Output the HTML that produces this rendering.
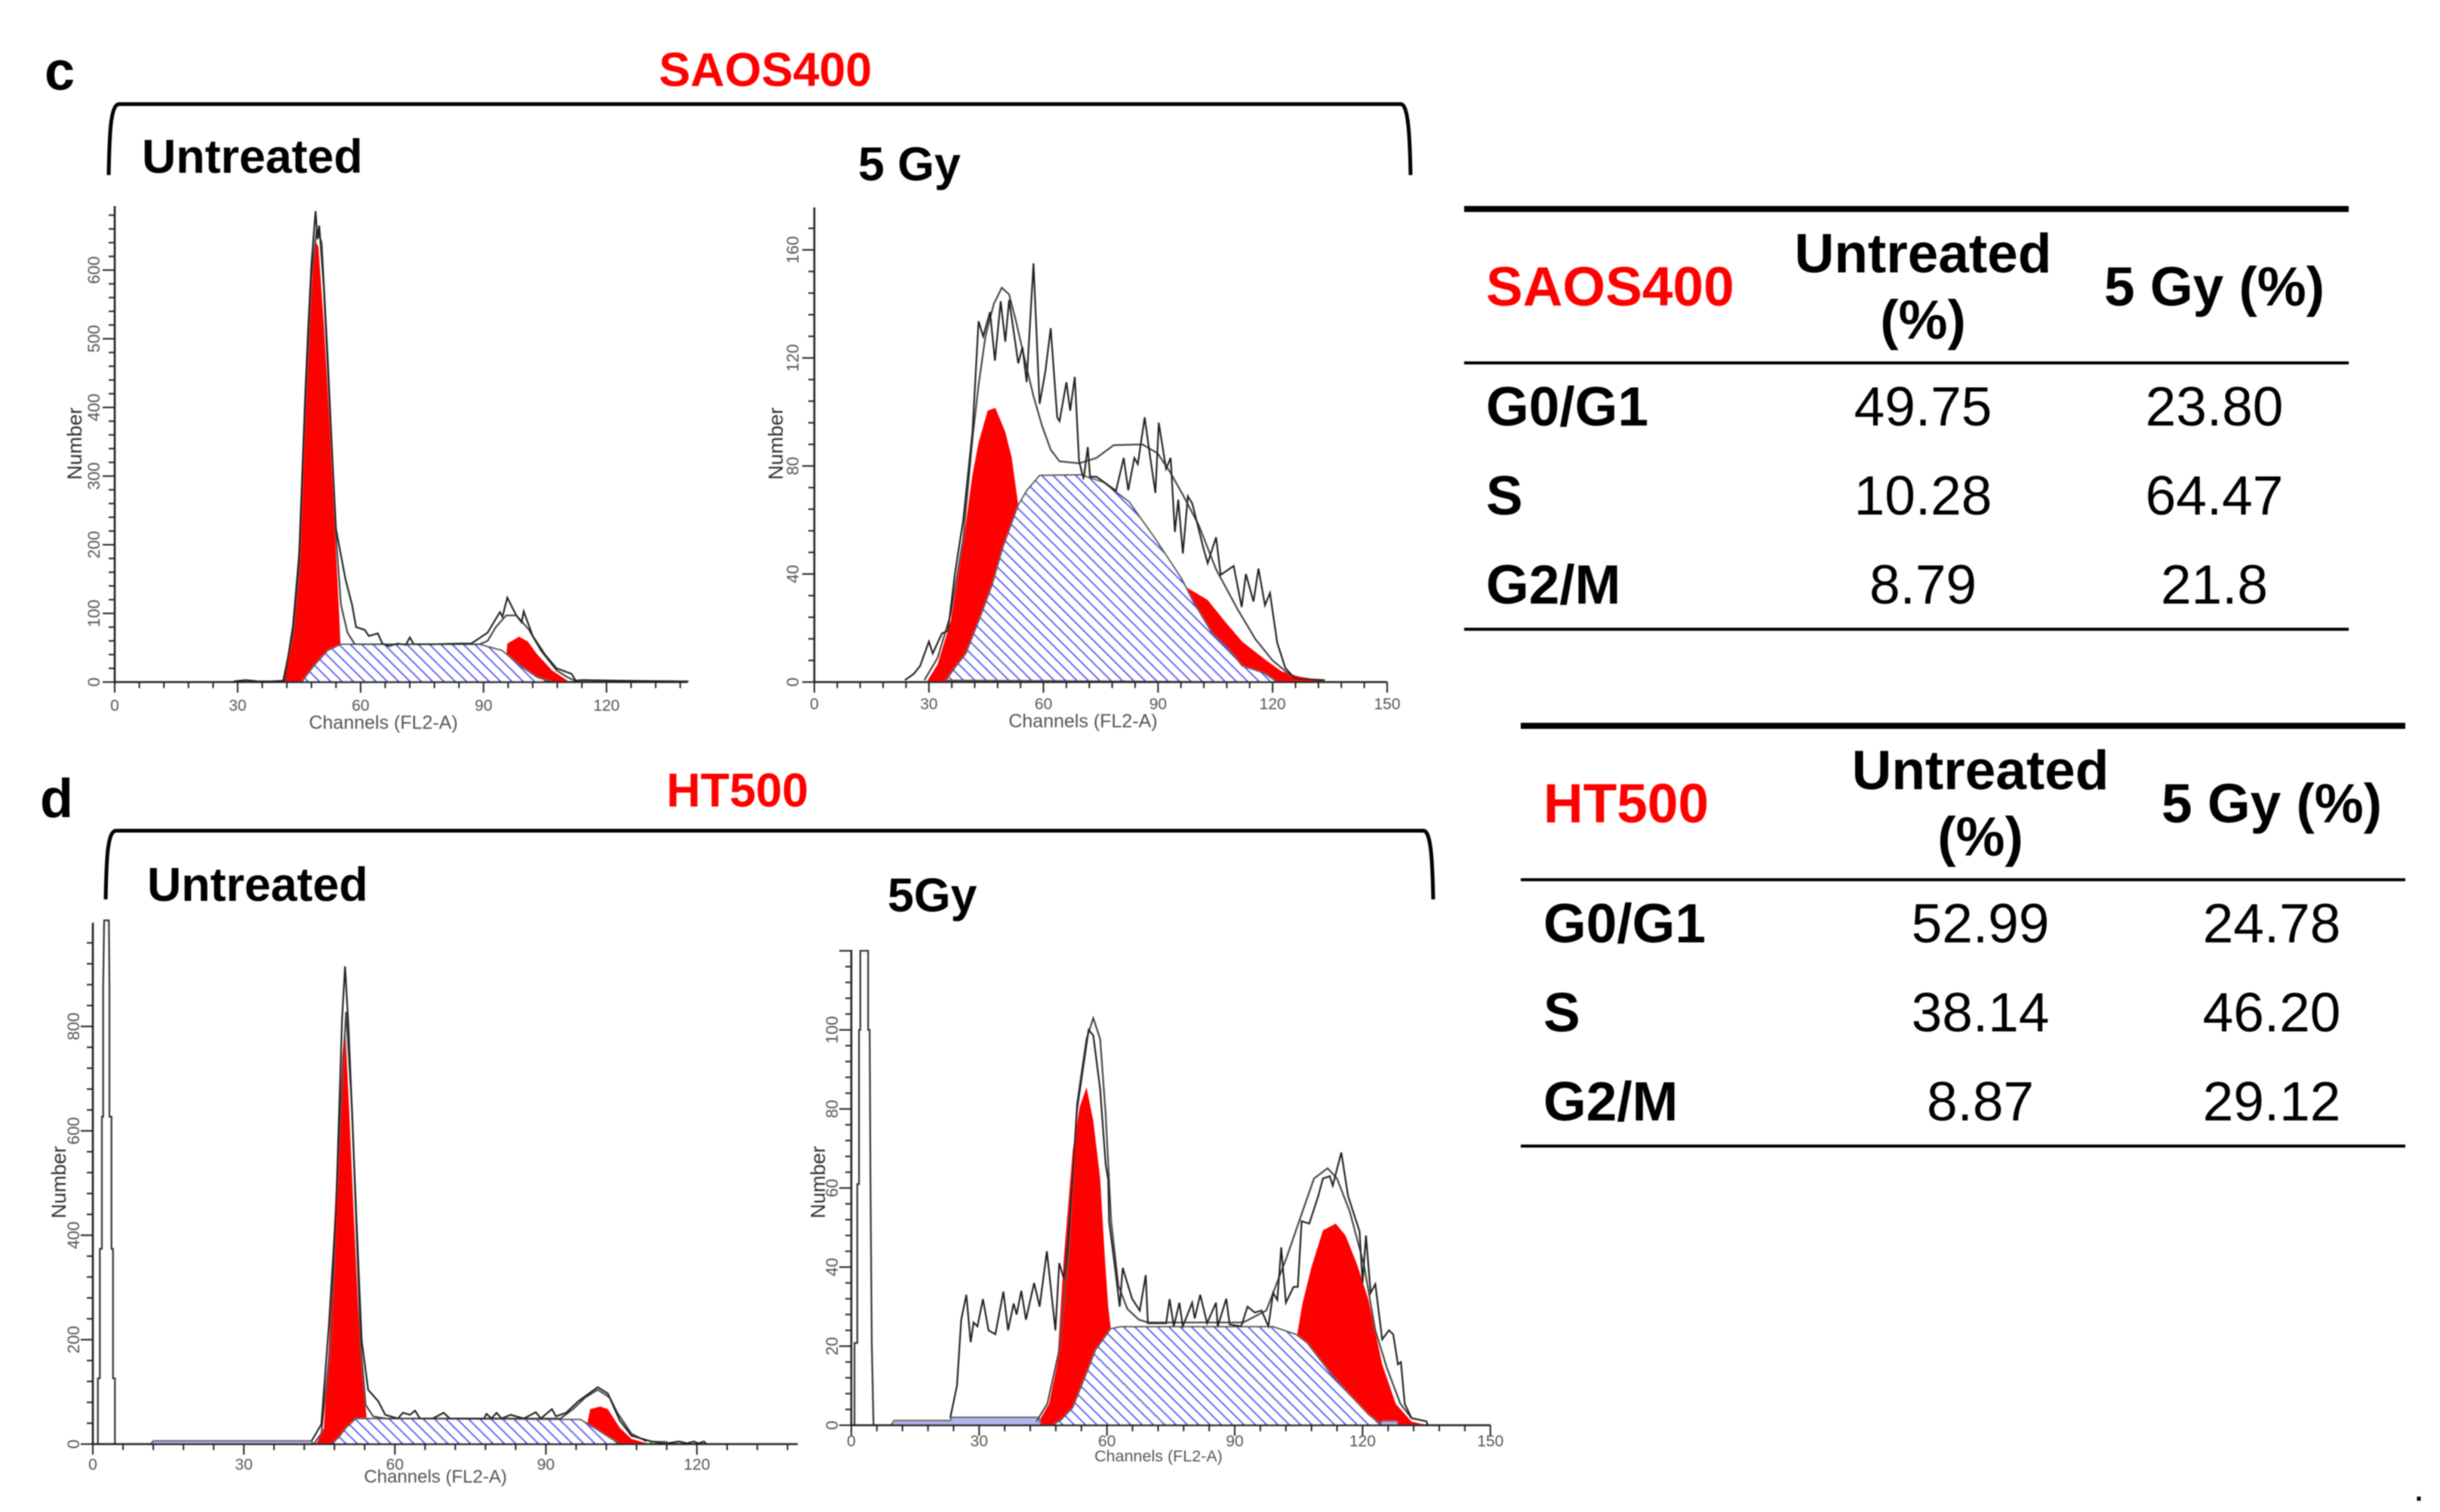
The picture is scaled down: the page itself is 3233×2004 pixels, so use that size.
<!DOCTYPE html>
<html lang="en">
<head>
<meta charset="utf-8">
<title>Cell cycle histograms: SAOS400 and HT500</title>
<style>
html,body{margin:0;padding:0;background:#fff;width:3233px;height:2004px;overflow:hidden}
svg{display:block;position:absolute;left:0;top:0}
text{font-family:"Liberation Sans",sans-serif}
.b{font-weight:700}
.t{font-size:73px;fill:#000}
.l{font-size:62.7px;font-weight:700;fill:#000}
.r{fill:#f00}
</style>
</head>
<body>
<svg id="fig" width="3233" height="2004" viewBox="0 0 3233 2004" xmlns="http://www.w3.org/2000/svg">
<defs>
<pattern id="hatch" patternUnits="userSpaceOnUse" width="15" height="15">
<path d="M-3.75,11.25 L3.75,18.75 M-3.75,-3.75 L18.75,18.75 M11.25,-3.75 L18.75,3.75" stroke="#6464f4" stroke-width="2.3" fill="none"/>
</pattern>
<filter id="soft" x="0" y="0" width="1" height="1"><feGaussianBlur stdDeviation="0.9"/></filter>
<filter id="softText" x="-5%" y="-5%" width="110%" height="110%"><feGaussianBlur stdDeviation="0.8"/></filter>
</defs>

<g id="plots" filter="url(#soft)"></g>

<g filter="url(#softText)">
<text x="59" y="119" class="b" font-size="72">c</text>
<text x="873" y="114" class="l r">SAOS400</text>
<path d="M144,232 C145,180 146,138 158,138 L1856,138 C1866,138 1868,180 1869,232" fill="none" stroke="#000" stroke-width="5"/>
<text x="188" y="229" class="l">Untreated</text>
<text x="1137" y="239" class="l">5 Gy</text>

<text x="53" y="1083" class="b" font-size="72">d</text>
<text x="883" y="1069" class="l r">HT500</text>
<path d="M140,1192 C141,1140 142,1101 154,1101 L1886,1101 C1896,1101 1898,1140 1899,1192" fill="none" stroke="#000" stroke-width="5"/>
<text x="195" y="1194" class="l">Untreated</text>
<text x="1176" y="1208" class="l">5Gy</text>

<g>
<rect x="1940" y="273" width="1172" height="8" fill="#000"/>
<rect x="1940" y="479" width="1172" height="4" fill="#000"/>
<rect x="1940" y="832" width="1172" height="4" fill="#000"/>
<text x="1969" y="405" class="t b r">SAOS400</text>
<text x="2548" y="361" class="t b" text-anchor="middle">Untreated</text>
<text x="2548" y="449" class="t b" text-anchor="middle">(%)</text>
<text x="2934" y="405" class="t b" text-anchor="middle">5 Gy (%)</text>
<text x="1969" y="564" class="t b">G0/G1</text>
<text x="2548" y="564" class="t" text-anchor="middle">49.75</text>
<text x="2934" y="564" class="t" text-anchor="middle">23.80</text>
<text x="1969" y="682" class="t b">S</text>
<text x="2548" y="682" class="t" text-anchor="middle">10.28</text>
<text x="2934" y="682" class="t" text-anchor="middle">64.47</text>
<text x="1969" y="800" class="t b">G2/M</text>
<text x="2548" y="800" class="t" text-anchor="middle">8.79</text>
<text x="2934" y="800" class="t" text-anchor="middle">21.8</text>
</g>

<g>
<rect x="2015" y="958" width="1172" height="8" fill="#000"/>
<rect x="2015" y="1164" width="1172" height="4" fill="#000"/>
<rect x="2015" y="1517" width="1172" height="4" fill="#000"/>
<text x="2045" y="1090" class="t b r">HT500</text>
<text x="2624" y="1046" class="t b" text-anchor="middle">Untreated</text>
<text x="2624" y="1134" class="t b" text-anchor="middle">(%)</text>
<text x="3010" y="1090" class="t b" text-anchor="middle">5 Gy (%)</text>
<text x="2045" y="1249" class="t b">G0/G1</text>
<text x="2624" y="1249" class="t" text-anchor="middle">52.99</text>
<text x="3010" y="1249" class="t" text-anchor="middle">24.78</text>
<text x="2045" y="1367" class="t b">S</text>
<text x="2624" y="1367" class="t" text-anchor="middle">38.14</text>
<text x="3010" y="1367" class="t" text-anchor="middle">46.20</text>
<text x="2045" y="1485" class="t b">G2/M</text>
<text x="2624" y="1485" class="t" text-anchor="middle">8.87</text>
<text x="3010" y="1485" class="t" text-anchor="middle">29.12</text>
</g>
<text x="3200" y="1989" class="b" font-size="36">.</text>
</g>
</svg>

<script>
// ---- Panel A: SAOS400 untreated ----
const aXTicks=[0,30,60,90,120];
const aYTicks=[0,100,200,300,400,500,600];
const aRawCh=[29,32,35,38,41.4,43.5,45,46.5,47.2,48,49,49.5,49.9,51,52.5,54,56.3,57.9,58.9,61,62,64.2,65.3,67,69,71,72,73,78,84,87,91,94,94.6,95.8,98,99.3,99.8,102,105,107.8,111.5,112.5,114,124,140];
const aRawN=[1,3,1,1,2,82,186,420,514,608,686,645,665,577,395,223,150,113,80,76,67,71,56,52,56,54,65,55,55,56,56,72,102,95,123,97,87,103,67,40,20,12,2,3,2,1];
const aFitCh=[41,43.5,45,46.5,48,49.3,50.5,52,54,55.2,56.8,58.6,89,91,93,95.5,98,101,104,107.8,110.5,113];
const aFitN=[0,70,170,400,590,660,640,470,212,113,72,55,55,60,80,97,97,77,46,17,7,0];
const aG1Ch=[41.4,44,45.6,46.7,47.8,48.8,49.7,51,52.5,53.6,54.7,55.5];
const aG1N=[0,108,265,420,550,645,634,525,369,238,108,0];
const aSCh=[45.6,48.8,52,55.2,89,94.5,98.7,103,106.7];
const aSN=[0,25,46,55,55,46,25,7,0];
const aG2Ch=[95,95.8,98.7,100.8,103,106.7,111];
const aG2N=[0,56,66,59,41,17,0];

// ---- Panel B: SAOS400 5 Gy ----
const bXTicks=[0,30,60,90,120,150];
const bYTicks=[0,40,80,120,160];
const bRawCh=[23.7,26,27.7,30,31,33.4,35,36.8,39,41.4,43,44.2,46,47.3,48.8,50,51,53.4,54.5,55.6,57.4,59,60.5,61.9,63.6,64.2,66,67,68.2,69.3,70.5,71.6,72.2,73.9,79,81,82.2,83.8,84.7,86.5,87.6,89.3,90.2,92.1,93.3,94.4,95.3,96.5,97.8,99,101.8,103,105.2,106.4,109.8,111.9,113,115,116.3,118,119.3,121.2,123.3,125.8,133.7];
const bRawN=[0.7,3,6,15,10.6,18,19,40,60,92.6,133.6,128,137,119,141,126,141.5,118,124,111,155,103,115,131,98,96.6,111,100.5,113,82,75,87,76,76,70.8,83,71,83,80.7,98,86.6,70,96,79,83,55.6,67.5,47.6,68.8,66,50,44,53.6,39.7,43,27.8,40,29.8,42,28.4,33,14.6,5.3,1.3,0.7];
const bFitCh=[28.8,32.3,35.7,39,41.4,43,44.8,47,49.1,51,52.8,55,57.4,59.6,61.9,64.2,69.3,73.9,78.4,85.9,89.9,93.3,96.7,100.7,105.2,111,115.5,120,124.6,127];
const bFitN=[0.7,9,25,53,90,110,128,140,146,143.5,133.6,120,105.8,95,86,81.7,81,83,87.7,88,84.7,77.4,68.8,58,41.7,26.5,15.9,8,2.6,0.7];
const bG1Ch=[29.4,32.3,35.7,39,41.4,43,45.4,47.4,50,51.7,53.4,55];
const bG1N=[0,6.6,22.5,51.6,76.7,88.6,100.5,101.5,92.6,83,65.5,0];
const bSCh=[34.5,36.8,39.7,43.7,46.5,49.4,53.4,55.6,59,69.9,75.6,82.4,89.3,96.1,99.5,104,108.7,112,117.8,121.2];
const bSN=[0.7,5.3,10.6,25,35.7,50,65.5,70.8,76.5,76.7,74,66.8,53,38.4,29,18.5,11.9,6,3.3,0];
const bG2Ch=[96.7,96.7,103,107.5,112,117.8,122.3,127,132.6,133.2];
const bG2N=[0,35.7,30.4,22.5,15,8.6,4,2,0.7,0];

// ---- Panel C: HT500 untreated ----
const cXTicks=[0,30,60,90,120];
const cYTicks=[0,200,400,600,800];
const cDebrisCh=[1,1,1.4,1.4,1.8,1.8,2.06,2.06,2.25,3.2,3.3,3.3,3.7,3.7,4,4,4.4,4.4];
const cDebrisN=[0,126,126,374,374,627,627,877,1003,1003,877,627,627,374,374,126,126,0];
const cBandCh=[11.5,12,43.4,43.8];
const cBandN=[0,6,6,0];
const cTailCh=[110.6,111,114,114.5];
const cTailN=[0,5,5,0];
const cRawCh=[43.4,45.4,46.9,48.3,49.5,50.1,50.8,52.3,53.4,54.7,56.7,58.1,60.6,61.6,63,64,65,67.5,69.7,70.9,77.7,78.2,79.2,80.2,81.2,83,85.6,88,89,91.2,92,94,96.4,100.3,102.3,104.7,107,111,114,116.5,118,119.4,120.3,121.4,121.9];
const cRawN=[5,38,228,447,813,915,798,447,199,104,82,56,49,60,56,64,49,49,60,49,49,58,49,60,49,56,49,61,49,67,53,60,82,109,97,45,16,5,1.5,5,1.5,5,1.5,5,0];
const cFitCh=[44,45.4,47.3,48.8,50.3,51.5,53.2,54.2,55.7,58.1,92.9,95.4,97.8,100.3,102.7,104.2,107,110];
const cFitN=[1.5,20,200,560,828,640,192,75,53,49,49,67,89,104,89,60,20,5];
const cG1Ch=[44.4,45.9,46.9,47.8,48.8,49.5,50.1,50.8,51.8,52.7,53.4,54.4,54.8];
const cG1N=[0,31,192,396,594,740,806,667,447,265,155,49,0];
const cSCh=[47.4,48.8,50.3,52.3,96.9,100.3,102.7,104.7];
const cSN=[0,12,31,49,47,27,12,0];
const cG2Ch=[97.4,98.8,100.8,102.3,104.7,107,110.6];
const cG2N=[0,67,72,67,31,10,0];

// ---- Panel D: HT500 5 Gy ----
const dXTicks=[0,30,60,90,120,150];
const dYTicks=[0,20,40,60,80,100];
const dDebrisCh=[0.75,0.75,1.4,1.4,1.8,1.8,2.1,2.1,3.95,3.95,4.3,4.5,4.5,4.8,4.8,5.2];
const dDebrisN=[0,20.8,20.8,61,61,100,100,120,120,100,100,61,61,20.8,20.8,0];
const dBandCh=[9.3,10,23.2,23.7,44,44.5];
const dBandN=[0,1.2,1.2,2,2,0];
const dTailCh=[124,124.6,128,128.5];
const dTailN=[0,1,1,0];
const dRawCh=[23.2,24.8,25.8,27,28,28.7,29.6,30.9,32.2,33.8,35.7,36.8,38.1,38.8,39.9,41,42.9,44.2,45.9,47.9,48.8,49.9,50.9,53,55.7,56.8,58.4,59.7,60.3,60.5,62.1,63,63.7,65.9,67.7,69.1,69.6,73.9,74.7,75.7,77,77.8,80,80.6,81.9,83.5,85.6,86,88,88.8,91.5,93,94.7,96.3,97.9,99,100,100.9,102,103.8,104.8,105.7,107.5,109.6,110.7,112.3,113,115,116.6,119.3,120,120.8,121.9,123,124.6,126.2,127.2,128.3,129,129.9,131.5,135,135.3];
const dRawN=[1.8,10,26.7,33,21,26,25,31.9,24,23,33.8,24,30.8,28,34,26.7,36,30,44,24,41,37,47,80,100,98.6,85,66,62,51.6,38,30,39.8,32,29,38,25.8,25.8,31.9,25,31,25,31,27,33,25.8,31,25,32,25.5,25,30,28.5,29,25,33.5,31.7,45,31,35,35,51.6,51,58,62.4,63,60.6,69,58,49,36,48,33.5,35.7,21.7,24,23,15.4,16,5.4,1.8,1,0];
const dFitCh=[43.4,46,48.8,50.9,53,55.2,56.8,58.4,59.7,61,62.7,64.8,67.5,69.6,92,97.4,99,102.2,105.4,108.6,111.8,114,117,120.3,123,125.7,128.9,131.5];
const dFitN=[0.9,5.4,19,42.5,81.4,97.7,103,97.7,78.7,51.6,35.3,29.4,26.7,26,26,29,33.5,42.5,52.5,62.4,65,62.4,54,40.7,24,14.5,5.4,1.8];
const dG1Ch=[43.5,46.4,48.3,49.9,52,53.6,55.2,56.8,58.4,59.5,60.3,60.9,61.2];
const dG1N=[0,5.4,15.4,42.5,69.7,80.5,85.5,77,62.4,42.5,29.9,24.4,0];
const dSCh=[47.2,49.3,52,54.7,57.3,60.9,63.2,99,104.3,107,112.8,117,121.4,124.6];
const dSN=[0,1.4,4.5,11.8,19,24.4,24.9,24.9,23,20.8,12.7,7.7,2.7,0];
const dG2Ch=[104.2,104.6,105.9,108,110.7,113.7,116,118.7,121.4,124.6,127.8,131.5,135.3];
const dG2N=[0,22.6,30.8,40,49.3,51,48,40.7,31.7,15.4,5.4,0.9,0];

const NS='http://www.w3.org/2000/svg';
const plots=document.getElementById('plots');

function make(parent,tag,attrs,content){
  const el=document.createElementNS(NS,tag);
  for(const k in attrs){el.setAttribute(k,attrs[k]);}
  if(content!==undefined){el.textContent=content;}
  parent.appendChild(el);
  return el;
}
function pts(chs,ns,x,y){
  return chs.map(function(c,i){return x(c).toFixed(1)+','+y(ns[i]).toFixed(1);}).join(' ');
}

function drawPanel(p){
  const x=function(c){return p.x0+c*p.pxCh;};
  const y=function(n){return p.y0-n*p.pxN;};
  const g=make(plots,'g',{});
  
  

  // red G1 and G2 peaks (closed to baseline; S-phase mask sits on top)
  const g1=make(g,'polygon',{points:pts(p.g1Ch,p.g1N,x,y),fill:'#f00'});
  
  
  const g2=make(g,'polygon',{points:pts(p.g2Ch,p.g2N,x,y),fill:'#f00'});
  
  

  // hatched S-phase area
  const mask=make(g,'polygon',{points:pts(p.sCh,p.sN,x,y),fill:'#fff'});
  
  
  const s=make(g,'polygon',{points:pts(p.sCh,p.sN,x,y),fill:'url(#hatch)',stroke:'#555','stroke-width':2});
  
  

  if(p.bandCh){
    const band=make(g,'polygon',{points:pts(p.bandCh,p.bandN,x,y),fill:'#b4b4ee',stroke:'#666','stroke-width':2});
    
    
  }
  if(p.tailCh){
    const tail=make(g,'polygon',{points:pts(p.tailCh,p.tailN,x,y),fill:p.tailFill,stroke:'#666','stroke-width':1.5});
    
    
  }
  if(p.debrisCh){
    const debris=make(g,'polyline',{points:pts(p.debrisCh,p.debrisN,x,y),fill:'none',stroke:'#333','stroke-width':2.2});
    
    
  }

  const fit=make(g,'polyline',{points:pts(p.fitCh,p.fitN,x,y),fill:'none',stroke:'#444','stroke-width':2.2});
  
  
  const raw=make(g,'polyline',{points:pts(p.rawCh,p.rawN,x,y),fill:'none',stroke:'#222','stroke-width':2.2});
  
  

  // axes
  const xAxis=make(g,'line',{x1:p.x0,y1:p.y0,x2:p.right,y2:p.y0,stroke:'#222','stroke-width':2.6});
  
  
  const yAxis=make(g,'line',{x1:p.x0,y1:p.y0,x2:p.x0,y2:p.top,stroke:'#222','stroke-width':2.6});
  
  

  const maxCh=(p.right-p.x0)/p.pxCh;
  for(let c=0;c<=maxCh+0.01;c+=6){
    const major=p.xTicks.indexOf(c)>=0;
    const t=make(g,'line',{x1:x(c),y1:p.y0,x2:x(c),y2:p.y0+(major?14:8),stroke:'#222','stroke-width':2});
    
    
  }
  p.xTicks.forEach(function(c){
    const lab=make(g,'text',{x:x(c),y:p.xLabelY,'text-anchor':'middle','font-size':21,fill:'#555'},String(c));
    
    
  });
  const maxN=(p.y0-p.top)/p.pxN;
  const minorStep=p.yTicks[1]/5;
  for(let i=0;i*minorStep<=maxN;i++){
    const major=i%5===0;
    const t=make(g,'line',{x1:p.x0,y1:y(i*minorStep),x2:p.x0-(major?16:8),y2:y(i*minorStep),stroke:'#222','stroke-width':2});
    
    
  }
  p.yTicks.forEach(function(n){
    const lab=make(g,'text',{x:p.yLabelX,y:y(n),'text-anchor':'middle','font-size':22,fill:'#555',transform:'rotate(-90 '+p.yLabelX+' '+y(n)+')'},String(n));
    
    
  });
  const xt=make(g,'text',{x:p.xTitleX,y:p.xTitleY,'text-anchor':'middle','font-size':p.xTitleSize,fill:'#555'},'Channels (FL2-A)');
  
  
  const yt=make(g,'text',{x:p.yTitleX,y:p.yTitleY,'text-anchor':'middle','font-size':27,fill:'#333',transform:'rotate(-90 '+p.yTitleX+' '+p.yTitleY+')'},'Number');
  
  
}

drawPanel({name:'saos400-untreated-histogram',x0:152,pxCh:5.43,y0:904,pxN:0.91,top:273,right:911,
  xLabelY:942,yLabelX:132,xTitleX:508,xTitleY:966,xTitleSize:25,yTitleX:108,yTitleY:588,
  xTicks:aXTicks,yTicks:aYTicks,rawCh:aRawCh,rawN:aRawN,fitCh:aFitCh,fitN:aFitN,g1Ch:aG1Ch,g1N:aG1N,sCh:aSCh,sN:aSN,g2Ch:aG2Ch,g2N:aG2N});
drawPanel({name:'saos400-5gy-histogram',x0:1079,pxCh:5.06,y0:904,pxN:3.58,top:275,right:1838,
  xLabelY:940,yLabelX:1058,xTitleX:1435,xTitleY:964,xTitleSize:25,yTitleX:1037,yTitleY:588,
  xTicks:bXTicks,yTicks:bYTicks,rawCh:bRawCh,rawN:bRawN,fitCh:bFitCh,fitN:bFitN,g1Ch:bG1Ch,g1N:bG1N,sCh:bSCh,sN:bSN,g2Ch:bG2Ch,g2N:bG2N});
drawPanel({name:'ht500-untreated-histogram',x0:123,pxCh:6.67,y0:1914,pxN:0.692,top:1223,right:1057,
  xLabelY:1948,yLabelX:105,xTitleX:577,xTitleY:1965,xTitleSize:24,yTitleX:87,yTitleY:1567,
  xTicks:cXTicks,yTicks:cYTicks,rawCh:cRawCh,rawN:cRawN,fitCh:cFitCh,fitN:cFitN,g1Ch:cG1Ch,g1N:cG1N,sCh:cSCh,sN:cSN,g2Ch:cG2Ch,g2N:cG2N,
  debrisCh:cDebrisCh,debrisN:cDebrisN,bandCh:cBandCh,bandN:cBandN,tailCh:cTailCh,tailN:cTailN,tailFill:'#7fd88f'});
drawPanel({name:'ht500-5gy-histogram',x0:1128,pxCh:5.645,y0:1889,pxN:5.24,top:1259,right:1975,
  xLabelY:1917,yLabelX:1110,xTitleX:1535,xTitleY:1937,xTitleSize:21.5,yTitleX:1093,yTitleY:1567,
  xTicks:dXTicks,yTicks:dYTicks,rawCh:dRawCh,rawN:dRawN,fitCh:dFitCh,fitN:dFitN,g1Ch:dG1Ch,g1N:dG1N,sCh:dSCh,sN:dSN,g2Ch:dG2Ch,g2N:dG2N,
  debrisCh:dDebrisCh,debrisN:dDebrisN,bandCh:dBandCh,bandN:dBandN,tailCh:dTailCh,tailN:dTailN,tailFill:'#b4b4ee'});
</script>
</body>
</html>
